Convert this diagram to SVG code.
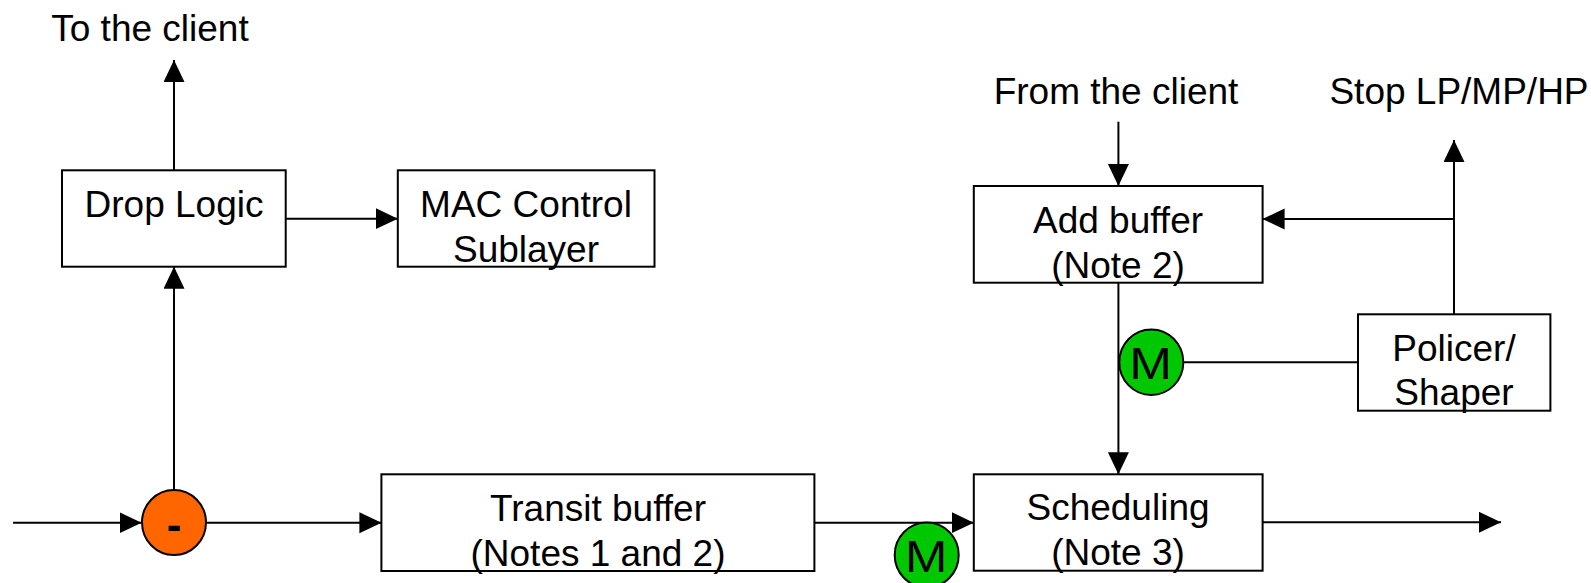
<svg xmlns="http://www.w3.org/2000/svg" width="1591" height="583" viewBox="0 0 1591 583">
<style>
  .box { fill: #ffffff; stroke: #000000; stroke-width: 2; }
  .ln { fill: none; stroke: #000000; stroke-width: 2; }
  .t { font-family: "Liberation Sans", Arial, sans-serif; font-size: 37px; fill: #000000; text-anchor: middle; }
  .m { font-family: "Liberation Sans", Arial, sans-serif; font-size: 45px; fill: #000000; text-anchor: middle; }
  .minus { font-family: "Liberation Sans", Arial, sans-serif; font-size: 44px; font-weight: bold; fill: #000000; text-anchor: middle; }
  .orange { fill: #FF6600; stroke: #000000; stroke-width: 2; }
  .green { fill: #00C800; stroke: #000000; stroke-width: 2; }
</style>
<defs>
  <marker id="arr" markerUnits="userSpaceOnUse" markerWidth="22" markerHeight="22" refX="22" refY="10.5" orient="auto">
    <path d="M0,0 L22,10.5 L0,21 z" fill="#000000"/>
  </marker>
</defs>
<rect width="1591" height="583" fill="#ffffff"/>

<g id="connectors">
  <line class="ln" x1="13" y1="522.7" x2="141.6" y2="522.7" marker-end="url(#arr)"/>
  <line class="ln" x1="206" y1="522.7" x2="381.4" y2="522.7" marker-end="url(#arr)"/>
  <line class="ln" x1="174" y1="490" x2="174" y2="266.7" marker-end="url(#arr)"/>
  <line class="ln" x1="174" y1="170.3" x2="174" y2="60" marker-end="url(#arr)"/>
  <line class="ln" x1="285.7" y1="218.7" x2="397.8" y2="218.7" marker-end="url(#arr)"/>
  <line class="ln" x1="814.4" y1="522.7" x2="973.8" y2="522.7" marker-end="url(#arr)"/>
  <line class="ln" x1="1118.4" y1="121.7" x2="1118.4" y2="186" marker-end="url(#arr)"/>
  <line class="ln" x1="1118.4" y1="282.7" x2="1118.4" y2="474.3" marker-end="url(#arr)"/>
  <line class="ln" x1="1183" y1="362.3" x2="1358" y2="362.3"/>
  <line class="ln" x1="1454" y1="314.3" x2="1454" y2="140" marker-end="url(#arr)"/>
  <line class="ln" x1="1454" y1="219" x2="1262.6" y2="219" marker-end="url(#arr)"/>
  <line class="ln" x1="1262.6" y1="522.3" x2="1501" y2="522.3" marker-end="url(#arr)"/>
</g>

<g id="label-to-client"><text class="t" x="150" y="40.7">To the client</text></g>
<g id="label-from-client"><text class="t" x="1116" y="104">From the client</text></g>
<g id="label-stop"><text class="t" x="1459" y="104">Stop LP/MP/HP</text></g>

<g id="drop-logic">
  <rect class="box" x="62" y="170.3" width="223.7" height="96.4"/>
  <text class="t" x="174" y="216.7">Drop Logic</text>
</g>
<g id="mac-control">
  <rect class="box" x="397.8" y="170.3" width="256.7" height="96.4"/>
  <text class="t" x="526" y="216.7">MAC Control</text>
  <text class="t" x="526" y="261.7">Sublayer</text>
</g>
<g id="add-buffer">
  <rect class="box" x="973.8" y="186" width="288.8" height="96.7"/>
  <text class="t" x="1118" y="233.3">Add buffer</text>
  <text class="t" x="1118" y="278.3">(Note 2)</text>
</g>
<g id="policer">
  <rect class="box" x="1358" y="314.3" width="192.4" height="96.4"/>
  <text class="t" x="1454" y="361">Policer/</text>
  <text class="t" x="1454" y="405">Shaper</text>
</g>
<g id="transit-buffer">
  <rect class="box" x="381.4" y="474.3" width="433" height="96.7"/>
  <text class="t" x="598" y="520.7">Transit buffer</text>
  <text class="t" x="598" y="566">(Notes 1 and 2)</text>
</g>
<g id="scheduling">
  <rect class="box" x="973.8" y="474.3" width="288.8" height="96.4"/>
  <text class="t" x="1118" y="520">Scheduling</text>
  <text class="t" x="1118" y="565">(Note 3)</text>
</g>
<g id="minus-node">
  <ellipse class="orange" cx="174" cy="522.5" rx="32" ry="32.5"/>
  <text class="minus" x="174" y="539.6">-</text>
</g>
<g id="m-node-add">
  <ellipse class="green" cx="1151.3" cy="362.2" rx="32" ry="32.8"/>
  <text class="m" x="1150.5" y="379" textLength="42.7" lengthAdjust="spacingAndGlyphs">M</text>
</g>
<g id="m-node-transit">
  <ellipse class="green" cx="926.7" cy="555" rx="32" ry="32.5"/>
  <text class="m" x="926" y="571.8" textLength="42.7" lengthAdjust="spacingAndGlyphs">M</text>
</g>
</svg>
